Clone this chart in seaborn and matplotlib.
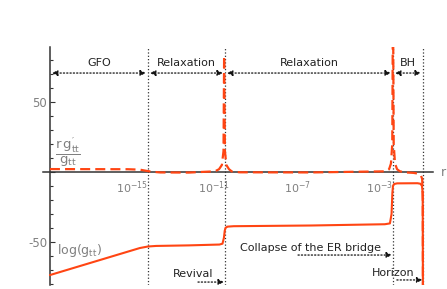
import numpy as np
import pandas as pd
import matplotlib
matplotlib.use("Agg")
import matplotlib.pyplot as plt
import matplotlib.ticker as mticker
import seaborn as sns

# ---- data (log10 r, value) ----
log_r_solid = [-19.8, -15.4, -15.0, -14.6, -13.0, -11.5, -11.35, -11.28, -11.24, -11.2, -11.1,
               -10.8, -7.0, -3.4, -3.15, -3.07, -3.03, -3.0, -2.95, -2.8, -1.8, -1.65, -1.58,
               -1.545, -1.525]
loggtt = [-73.6, -54.3, -53.2, -52.8, -52.4, -51.8, -51.2, -47.0, -42.0, -39.8, -39.0,
          -38.7, -38.2, -37.3, -36.7, -30.0, -15.0, -10.0, -8.6, -8.1, -8.0, -8.4, -10.0,
          -15.0, -150.0]

log_r_dashed = [-19.8, -16.0, -15.4, -15.1, -14.8, -14.4, -13.0, -11.72, -11.52, -11.38, -11.30,
                -11.27, -11.23, -11.16, -11.03, -10.89, -10.5, -7.0, -3.34, -3.19, -3.1,
                -3.035, -3.0, -2.965, -2.9, -2.8, -2.66, -2.4, -2.0, -1.75, -1.63, -1.57,
                -1.54, -1.525]
rgprime = [2.1, 2.0, 1.7, 0.9, 0.2, -0.3, -0.4, 0.5, 2.0, 5.0, 15.0,
           83.0, 15.0, 5.0, 2.0, 0.4, -0.2, -0.3, 0.5, 2.0, 6.0,
           20.0, 130.0, 20.0, 6.0, 2.0, 0.5, -0.3, -0.6, -1.2, -2.5, -5.0,
           -20.0, -150.0]

x_tick_exp = [-15, -11, -7, -3]
x_tick_labels = [r"$10^{-15}$", r"$10^{-11}$", r"$10^{-7}$", r"$10^{-3}$"]
y_major = [-50, 0, 50]
y_major_labels = ["-50", "", "50"]

boundaries = [-15.0, -11.23, -3.0, -1.53]
region_names = ["GFO", "Relaxation", "Relaxation", "BH"]

ORANGE = "#ff4513"
DARK = "#333333"
GREY = "#808080"

sns.set_theme(style="white")
plt.rcParams["font.family"] = ["DejaVu Sans"]
plt.rcParams["mathtext.fontset"] = "dejavusans"
plt.rcParams["mathtext.default"] = "regular"
plt.rcParams["axes.unicode_minus"] = False

fig = plt.figure(figsize=(4.47, 2.89), dpi=100)
ax = fig.add_axes([43 / 447, 4 / 289, (433 - 43) / 447, (285 - 47) / 289])

df_s = pd.DataFrame({"r": [10.0 ** v for v in log_r_solid], "val": loggtt})
df_d = pd.DataFrame({"r": [10.0 ** v for v in log_r_dashed], "val": rgprime})

sns.lineplot(data=df_s, x="r", y="val", ax=ax, color=ORANGE, lw=1.5,
             sort=False, estimator=None)
sns.lineplot(data=df_d, x="r", y="val", ax=ax, color=ORANGE, lw=1.6,
             sort=False, estimator=None, dashes=False)
ax.lines[-1].set_dashes((4.5, 2.3))

ax.set_xscale("log")
ax.set_xlim(10 ** -20.14, 10 ** -1.04)
ax.set_ylim(-80.7, 89.3)

# spines
for s in ["top", "right"]:
    ax.spines[s].set_visible(False)
ax.spines["bottom"].set_position(("data", 0))
ax.spines["left"].set_position(("data", 10 ** -19.8))
for s in ["bottom", "left"]:
    ax.spines[s].set_color(DARK)
    ax.spines[s].set_linewidth(1.1)
    ax.spines[s].set_zorder(1)

# ticks
ax.xaxis.set_major_locator(mticker.FixedLocator([10.0 ** e for e in x_tick_exp]))
ax.xaxis.set_major_formatter(mticker.FixedFormatter(x_tick_labels))
ax.xaxis.set_minor_locator(mticker.NullLocator())
ax.tick_params(axis="x", length=0, pad=5, labelsize=8, labelcolor=GREY)
for lab in ax.get_xticklabels():
    lab.set_horizontalalignment("right")

ax.yaxis.set_major_locator(mticker.FixedLocator(y_major))
ax.yaxis.set_major_formatter(mticker.FixedFormatter(y_major_labels))
ax.yaxis.set_minor_locator(mticker.MultipleLocator(10))
ax.tick_params(axis="y", which="both", direction="in", color=DARK, width=0.8,
               labelsize=8.5, labelcolor=GREY, left=True)
ax.tick_params(axis="y", which="major", length=3.5, pad=2)
ax.tick_params(axis="y", which="minor", length=2.5)
ax.set_xlabel("")
ax.set_ylabel("")

# vertical boundaries
for b in boundaries:
    ax.axvline(10 ** b, color=DARK, ls=":", lw=0.9, zorder=0)

# top double arrows
edges = [-19.8] + boundaries
for i, name in enumerate(region_names):
    a, b = 10 ** edges[i], 10 ** edges[i + 1]
    ax.annotate("", xy=(b, 70.7), xytext=(a, 70.7),
                arrowprops=dict(arrowstyle="<|-|>", ls=":", lw=0.9, color="#111111",
                                shrinkA=1.5, shrinkB=1.5, mutation_scale=8))
    mid = 10 ** ((edges[i] + edges[i + 1]) / 2)
    ax.text(mid, 78.0, name, ha="center", va="center", fontsize=8, color="#222222")

# bottom annotations
bottom = [("Revival", -12.8, -72.9, -12.55, -11.28, -78.6),
          ("Collapse of the ER bridge", -7.02, -54.3, -7.65, -3.05, -59.3),
          ("Horizon", -3.0, -72.1, -2.81, -1.56, -77.1)]
for txt, tx, ty, a0, a1, ay in bottom:
    ax.text(10 ** tx, ty, txt, ha="center", va="center", fontsize=8, color="#222222")
    ax.annotate("", xy=(10 ** a1, ay), xytext=(10 ** a0, ay),
                arrowprops=dict(arrowstyle="-|>", ls=":", lw=0.9, color="#111111",
                                shrinkA=0, shrinkB=0, mutation_scale=8))

# curve labels
ax.text(10 ** -18.92, 14.0, r"$\dfrac{r\,g^{\prime}_{tt}}{g_{tt}}$", ha="center",
        va="center", fontsize=9.5, color=GREY)
ax.text(10 ** -18.33, -56.4, r"$\log(g_{tt})$", ha="center", va="center",
        fontsize=9, color=GREY)
ax.annotate("r", xy=(1, 0), xycoords=("axes fraction", "data"), xytext=(6, 0),
            textcoords="offset points", ha="left", va="center", fontsize=9,
            color=GREY, annotation_clip=False)

fig.savefig("out.png", dpi=100)
